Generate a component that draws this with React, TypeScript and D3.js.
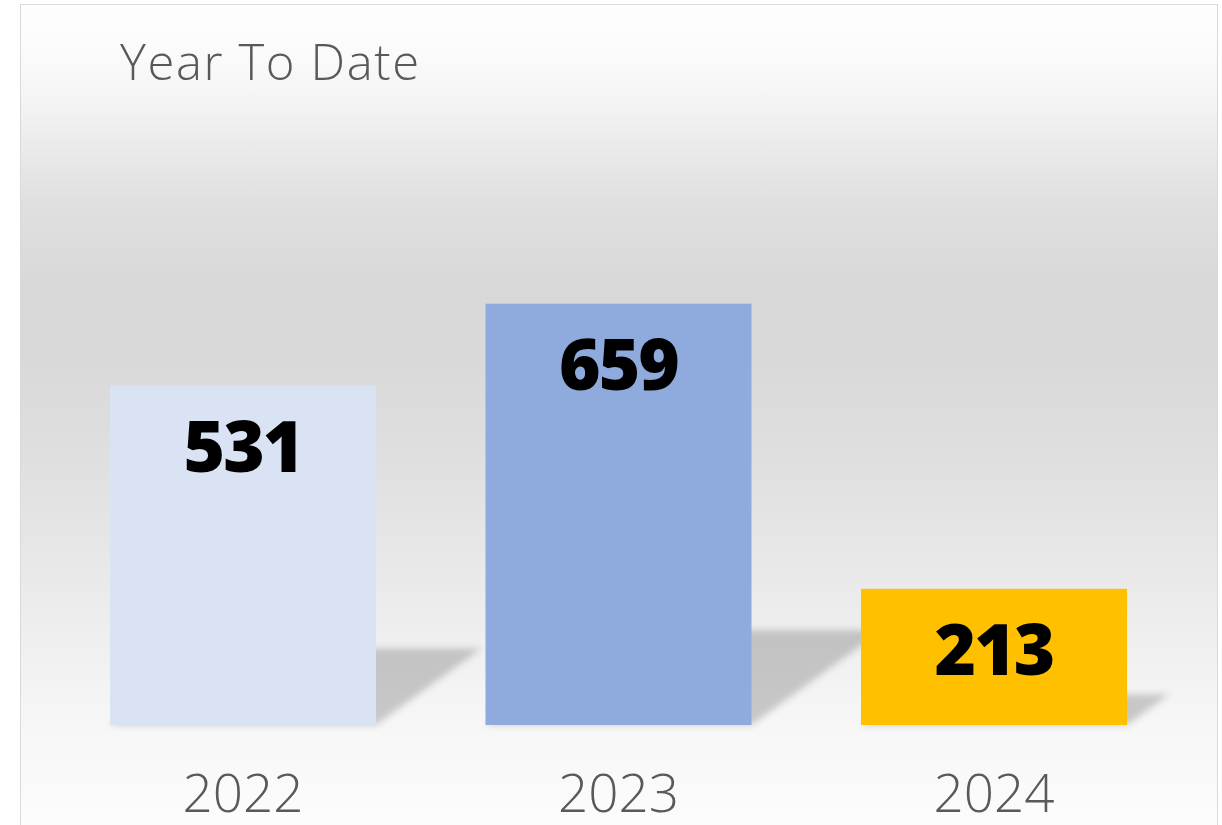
import React from "react";
import * as d3 from "d3";

const years = ["2022", "2023", "2024"];
const values = [531, 659, 213];
const barColors = ["#dae3f3", "#8faadc", "#ffc000"];
const title = "Year To Date";

const W = 1222;
const H = 825;
const baseY = 725;

export default function App() {
  const x = d3
    .scaleBand<string>()
    .domain(years)
    .range([55.25, 1181.75])
    .paddingInner(0.2916)
    .paddingOuter(0.1458);
  const y = d3.scaleLinear().domain([0, 700]).range([baseY, baseY - 700 * 0.6393]);

  const skewX = 0.31;
  const skewY = 0.225;

  const bgStops: [number, string][] = [
    [4, "#fefefe"],
    [60, "#fafafa"],
    [110, "#f2f2f2"],
    [200, "#e0e0e0"],
    [290, "#d8d8d8"],
    [360, "#d9d9d9"],
    [430, "#dddddd"],
    [530, "#e5e5e5"],
    [630, "#eeeeee"],
    [730, "#f7f7f7"],
    [825, "#fcfcfc"],
  ];

  return (
    <svg
      width={W}
      height={H}
      style={{ position: "absolute", left: 0, top: 0, background: "#ffffff" }}
    >
      <defs>
        <linearGradient id="bg" gradientUnits="userSpaceOnUse" x1="0" y1="0" x2="0" y2={H}>
          {bgStops.map(([p, c], i) => (
            <stop key={i} offset={p / H} stopColor={c} />
          ))}
        </linearGradient>
        <filter id="blur" x="-20%" y="-20%" width="140%" height="140%">
          <feGaussianBlur stdDeviation="3.5" />
        </filter>
        <clipPath id="frame">
          <rect x={21} y={5} width={1196} height={H} />
        </clipPath>
      </defs>
      <rect x={20.5} y={4.5} width={1197} height={H + 20} fill="url(#bg)" stroke="#d9d9d9" strokeWidth={1} />
      <g clipPath="url(#frame)">
        <g filter="url(#blur)">
          {years.map((yr, i) => {
            const x0 = x(yr)!;
            const x1 = x0 + x.bandwidth();
            const h = baseY - y(values[i]);
            const dx = h * skewX;
            const dy = h * skewY;
            const pts = [
              [x0, baseY],
              [x1, baseY],
              [x1 + dx, baseY - dy],
              [x0 + dx, baseY - dy],
            ]
              .map((p) => p.join(","))
              .join(" ");
            return <polygon key={yr} points={pts} fill="#000" fillOpacity={0.19} />;
          })}
        </g>
        {years.map((yr, i) => (
          <rect
            key={yr}
            x={x(yr)}
            y={y(values[i])}
            width={x.bandwidth()}
            height={baseY - y(values[i])}
            fill={barColors[i]}
          />
        ))}
        {years.map((yr, i) => (
          <text
            key={yr}
            x={x(yr)! + x.bandwidth() / 2}
            y={y(values[i]) + 86}
            textAnchor="middle"
            fontFamily="'Open Sans', sans-serif"
            fontWeight={800}
            fontSize={71}
            letterSpacing={-2}
            fill="#000"
          >
            {values[i]}
          </text>
        ))}
        {years.map((yr) => (
          <text
            key={yr}
            x={x(yr)! + x.bandwidth() / 2}
            y={812}
            textAnchor="middle"
            fontFamily="'Open Sans', sans-serif"
            fontWeight={300}
            fontSize={53}
            fill="#595959"
          >
            {yr}
          </text>
        ))}
        <text
          x={120}
          y={80}
          fontFamily="'Open Sans', sans-serif"
          fontWeight={300}
          fontSize={49}
          letterSpacing={1.6}
          fill="#595959"
        >
          {title}
        </text>
      </g>
    </svg>
  );
}
